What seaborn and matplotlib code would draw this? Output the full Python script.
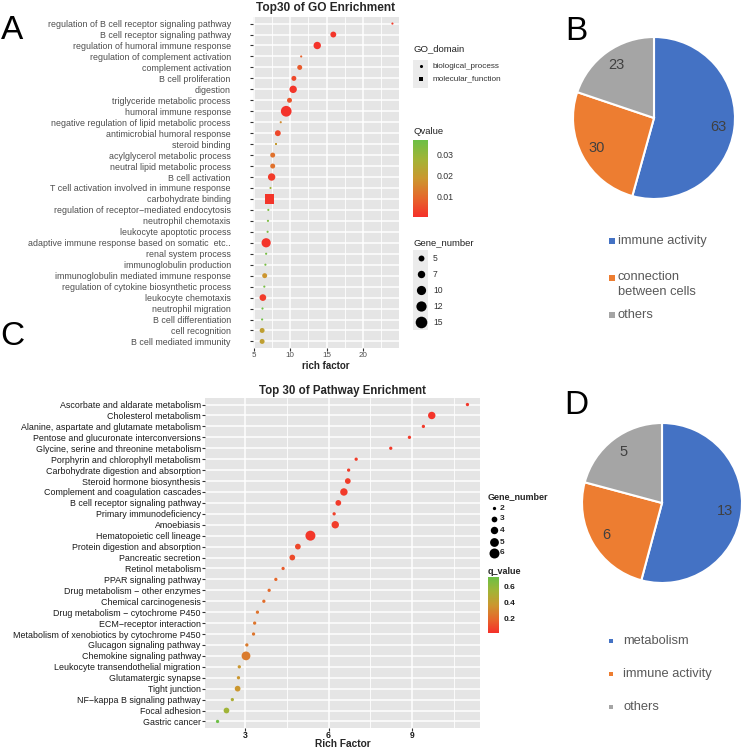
import numpy as np
import pandas as pd
import matplotlib
matplotlib.use("Agg")
import matplotlib.pyplot as plt
import seaborn as sns
from matplotlib.colors import LinearSegmentedColormap, Normalize
from matplotlib.cm import ScalarMappable
from matplotlib.ticker import MultipleLocator
from matplotlib.patches import Rectangle

# ---- GO enrichment (panel A) ----
go_terms = [
    "regulation of B cell receptor signaling pathway",
    "B cell receptor signaling pathway",
    "regulation of humoral immune response",
    "regulation of complement activation",
    "complement activation",
    "B cell proliferation",
    "digestion",
    "triglyceride metabolic process",
    "humoral immune response",
    "negative regulation of lipid metabolic process",
    "antimicrobial humoral response",
    "steroid binding",
    "acylglycerol metabolic process",
    "neutral lipid metabolic process",
    "B cell activation",
    "T cell activation involved in immune response",
    "carbohydrate binding",
    "regulation of receptor\u2212mediated endocytosis",
    "neutrophil chemotaxis",
    "leukocyte apoptotic process",
    "adaptive immune response based on somatic  etc..",
    "renal system process",
    "immunoglobulin production",
    "immunoglobulin mediated immune response",
    "regulation of cytokine biosynthetic process",
    "leukocyte chemotaxis",
    "neutrophil migration",
    "B cell differentiation",
    "cell recognition",
    "B cell mediated immunity",
]
go_rich = [24.0, 15.9, 13.7, 11.5, 11.3, 10.5, 10.4, 9.9, 9.45, 8.7,
           8.3, 8.1, 7.6, 7.6, 7.45, 7.3, 7.2, 7.0, 6.95, 6.9,
           6.7, 6.7, 6.6, 6.5, 6.45, 6.25, 6.2, 6.15, 6.15, 6.15]
go_q = [0.002, 0.001, 0.0005, 0.008, 0.007, 0.004, 0.001, 0.006, 0.0003, 0.016,
        0.004, 0.02, 0.011, 0.011, 0.002, 0.028, 0.001, 0.034, 0.034, 0.034,
        0.0008, 0.035, 0.035, 0.018, 0.035, 0.002, 0.036, 0.036, 0.021, 0.021]
go_genes = [2, 5, 7, 2, 4, 4, 7, 4, 13, 2,
            5, 2, 4, 4, 7, 2, 10, 2, 2, 2,
            10, 2, 2, 4, 2, 6, 2, 2, 4, 4]
go_domain = ["biological_process"] * 30
go_domain[11] = "molecular_function"
go_domain[16] = "molecular_function"
go_size_breaks = [5, 7, 10, 12, 15]
go_q_ticks = [0.01, 0.02, 0.03]

# ---- KEGG pathway enrichment (panel C) ----
kegg_terms = [
    "Ascorbate and aldarate metabolism",
    "Cholesterol metabolism",
    "Alanine, aspartate and glutamate metabolism",
    "Pentose and glucuronate interconversions",
    "Glycine, serine and threonine metabolism",
    "Porphyrin and chlorophyll metabolism",
    "Carbohydrate digestion and absorption",
    "Steroid hormone biosynthesis",
    "Complement and coagulation cascades",
    "B cell receptor signaling pathway",
    "Primary immunodeficiency",
    "Amoebiasis",
    "Hematopoietic cell lineage",
    "Protein digestion and absorption",
    "Pancreatic secretion",
    "Retinol metabolism",
    "PPAR signaling pathway",
    "Drug metabolism \u2212 other enzymes",
    "Chemical carcinogenesis",
    "Drug metabolism \u2212 cytochrome P450",
    "ECM\u2212receptor interaction",
    "Metabolism of xenobiotics by cytochrome P450",
    "Glucagon signaling pathway",
    "Chemokine signaling pathway",
    "Leukocyte transendothelial migration",
    "Glutamatergic synapse",
    "Tight junction",
    "NF\u2212kappa B signaling pathway",
    "Focal adhesion",
    "Gastric cancer",
]
kegg_rich = [10.98, 9.7, 9.4, 8.9, 8.23, 6.99, 6.72, 6.69, 6.55, 6.35,
             6.2, 6.24, 5.35, 4.9, 4.7, 4.37, 4.11, 3.87, 3.68, 3.45,
             3.35, 3.31, 3.07, 3.04, 2.8, 2.77, 2.74, 2.55, 2.34, 2.02]
kegg_q = [0.05, 0.04, 0.06, 0.06, 0.06, 0.07, 0.07, 0.07, 0.06, 0.06,
          0.08, 0.07, 0.05, 0.10, 0.11, 0.16, 0.20, 0.21, 0.22, 0.24,
          0.25, 0.25, 0.27, 0.27, 0.37, 0.37, 0.37, 0.50, 0.55, 0.71]
kegg_genes = [2, 4, 2, 2, 2, 2, 2, 3, 4, 3,
              2, 4, 6, 3, 3, 2, 2, 2, 2, 2,
              2, 2, 2, 5, 2, 2, 3, 2, 3, 2]
kegg_size_breaks = [2, 3, 4, 5, 6]
kegg_q_ticks = [0.2, 0.4, 0.6]

# ---- pies ----
b_labels = ["immune activity", "connection\nbetween cells", "others"]
b_values = [63, 30, 23]
d_labels = ["metabolism", "immune activity", "others"]
d_values = [13, 6, 5]
pie_colors = ["#4472C4", "#ED7D31", "#A5A5A5"]

W, H = 742, 748
sns.set_theme(style="white")
plt.rcParams["font.family"] = ["Liberation Sans", "DejaVu Sans"]

fig = plt.figure(figsize=(W / 100, H / 100), dpi=100)


def px_axes(x0, y0, x1, y1):
    return fig.add_axes([x0 / W, 1 - y1 / H, (x1 - x0) / W, (y1 - y0) / H])


cmap = LinearSegmentedColormap.from_list(
    "rg", ["#F5302A", "#E5682B", "#CB972F", "#A2B436", "#6CBF45"])


def size_go(g):
    return 5.2 * g - 8


def size_kegg(g):
    return 11.5 * g - 17.4


def style_panel(ax, major, minor):
    ax.set_facecolor("#E5E5E5")
    for s in ax.spines.values():
        s.set_visible(False)
    ax.xaxis.set_major_locator(MultipleLocator(major))
    ax.xaxis.set_minor_locator(MultipleLocator(minor))
    ax.set_axisbelow(True)
    ax.grid(which="major", color="white", lw=1.1)
    ax.grid(which="minor", axis="x", color="white", lw=0.6)
    ax.tick_params(which="minor", length=0)
    ax.tick_params(which="major", left=True, bottom=True, length=2, width=0.8,
                   color="#333333")


# Panel A
go = pd.DataFrame({"term": go_terms, "rich": go_rich, "q": go_q,
                   "genes": go_genes, "domain": go_domain})
normA = Normalize(0, 0.0367)
axA = px_axes(253, 17, 399, 348)
sns.scatterplot(data=go, x="rich", y="term", hue="q", palette=cmap, hue_norm=normA,
                size="genes", sizes=(size_go(2), size_go(15)), size_norm=(2, 15),
                style="domain",
                markers={"biological_process": "o", "molecular_function": "s"},
                linewidth=0, legend=False, ax=axA)
style_panel(axA, 5, 2.5)
axA.set_xlim(4.9, 24.9)
axA.set_ylim(29.6, -0.6)
axA.set_xticks([5, 10, 15, 20])
axA.tick_params(axis="y", labelsize=6.4, labelcolor="#4D4D4D", pad=14)
axA.tick_params(axis="x", labelsize=5.8, labelcolor="#4D4D4D", pad=1)
axA.set_ylabel("")
axA.set_xlabel("rich factor", fontsize=7, fontweight="bold", labelpad=1)
axA.set_title("Top30 of GO Enrichment", fontsize=8.6, fontweight="bold", pad=4)

# Panel C
kg = pd.DataFrame({"term": kegg_terms, "rich": kegg_rich, "q": kegg_q,
                   "genes": kegg_genes})
normC = Normalize(0.028, 0.714)
axC = px_axes(205, 398, 480, 728)
sns.scatterplot(data=kg, x="rich", y="term", hue="q", palette=cmap, hue_norm=normC,
                size="genes", sizes=(size_kegg(2), size_kegg(6)), size_norm=(2, 6),
                linewidth=0, legend=False, ax=axC)
style_panel(axC, 3, 1.5)
axC.set_xlim(1.57, 11.43)
axC.set_ylim(29.6, -0.6)
axC.set_xticks([3, 6, 9])
axC.tick_params(axis="y", labelsize=6.4, labelcolor="#1A1A1A", pad=1)
axC.tick_params(axis="x", labelsize=6.2, labelcolor="#1A1A1A", pad=0.5)
for t in axC.get_xticklabels():
    t.set_fontweight("bold")
axC.set_ylabel("")
axC.set_xlabel("Rich Factor", fontsize=7.3, fontweight="bold", labelpad=-1)
axC.set_title("Top 30 of Pathway Enrichment", fontsize=8.3, fontweight="bold", pad=3)

# colorbars
caxA = px_axes(413, 140, 428, 217)
cbA = fig.colorbar(ScalarMappable(normA, cmap), cax=caxA, ticks=go_q_ticks)
cbA.outline.set_visible(False)
caxA.tick_params(length=3, color="white", width=0.8, labelsize=6.3,
                 labelcolor="#333333", pad=3, right=True)
caxA.set_yticklabels([f"{v:.2f}" for v in go_q_ticks])

caxC = px_axes(488, 577, 499, 633)
cbC = fig.colorbar(ScalarMappable(normC, cmap), cax=caxC, ticks=kegg_q_ticks)
cbC.outline.set_visible(False)
caxC.tick_params(length=2, color="white", width=0.8, labelsize=6,
                 labelcolor="#1A1A1A", pad=1, right=True)
caxC.set_yticklabels([f"{v:.1f}" for v in kegg_q_ticks])
for t in caxC.get_yticklabels():
    t.set_fontweight("bold")

# pies
def draw_pie(cx, cy, r, values, box=85):
    ax = px_axes(cx - box, cy - box, cx + box, cy + box)
    total = sum(values)
    ax.pie(values, colors=pie_colors, startangle=90, counterclock=False,
           radius=r / box, wedgeprops=dict(edgecolor="white", linewidth=1.5),
           autopct=lambda p: f"{p * total / 100:.0f}", pctdistance=0.8,
           textprops=dict(fontsize=10.5, color="#404040"))
    ax.set_xlim(-1, 1)
    ax.set_ylim(-1, 1)
    return ax


draw_pie(654, 118, 81, b_values)
draw_pie(662, 503, 80, d_values)

# overlay for legends and letters (pixel coordinates)
ov = fig.add_axes([0, 0, 1, 1])
ov.set_xlim(0, W)
ov.set_ylim(H, 0)
ov.axis("off")

for letter, x, y in [("A", 12, 30), ("B", 576, 31), ("C", 12, 336), ("D", 576, 405)]:
    ov.text(x, y, letter, fontsize=24, ha="center", va="center", color="black")

# GO legends
ov.text(413, 49, "GO_domain", fontsize=6.8, va="center", color="#222222")
ov.add_patch(Rectangle((413, 60), 15, 28, color="#EBEBEB", lw=0))
for yy, mk, lab in [(66, "o", "biological_process"), (79, "s", "molecular_function")]:
    ov.scatter([421], [yy], s=5, marker=mk, color="black", lw=0)
    ov.text(433, yy, lab, fontsize=5.9, va="center", color="#333333")
ov.text(413, 131, "Qvalue", fontsize=6.8, va="center", color="#222222")
ov.text(413, 243, "Gene_number", fontsize=6.8, va="center", color="#222222")
ov.add_patch(Rectangle((413, 250), 15, 80, color="#EBEBEB", lw=0))
for yy, g in zip([258, 274, 290, 306, 322], go_size_breaks):
    ov.scatter([421], [yy], s=size_go(g), color="black", lw=0)
    ov.text(433, yy, str(g), fontsize=6.2, va="center", color="#333333")

# KEGG legends
ov.text(488, 497, "Gene_number", fontsize=6.5, fontweight="bold", va="center")
for yy, g in zip([508, 519, 530, 542, 553], kegg_size_breaks):
    ov.scatter([494], [yy], s=size_kegg(g), color="black", lw=0)
    ov.text(500, yy, str(g), fontsize=6, fontweight="bold", va="center")
ov.text(488, 572, "q_value", fontsize=6.5, fontweight="bold", va="center")

# pie legends
for yy, c in zip([241, 278, 315], pie_colors):
    ov.scatter([612], [yy], s=14, marker="s", color=c, lw=0)
ov.text(618, 241, b_labels[0], fontsize=9.3, va="center", color="#595959")
ov.text(618, 271, b_labels[1], fontsize=9.3, va="top", color="#595959", linespacing=1.3)
ov.text(618, 315, b_labels[2], fontsize=9.3, va="center", color="#595959")

for yy, c, lab in zip([641, 674, 707], pie_colors, d_labels):
    ov.scatter([611], [yy], s=9, marker="s", color=c, lw=0)
    ov.text(623, yy, lab, fontsize=9.3, va="center", color="#595959")

fig.savefig("out.png", dpi=100)
